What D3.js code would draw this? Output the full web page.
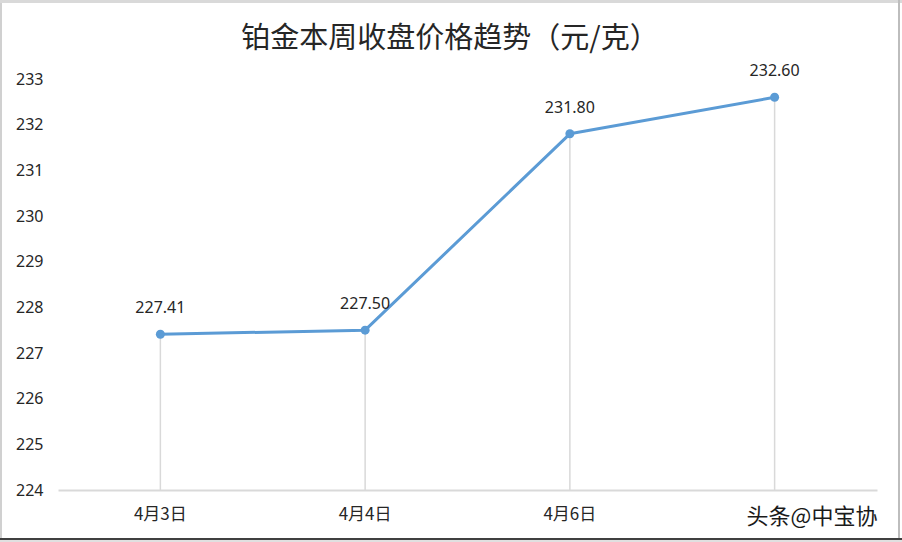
<!DOCTYPE html>
<html>
<head>
<meta charset="utf-8">
<script src="https://cdn.jsdelivr.net/npm/d3@7"></script>
<style>
  html, body { margin: 0; padding: 0; background: #ffffff; }
  svg { display: block; }
  text { font-family: "Noto Sans", "Noto Sans CJK SC", sans-serif; }
</style>
</head>
<body>
<div id="chart"></div>
<script>
const title = "铂金本周收盘价格趋势（元/克）";
const categories = ["4月3日", "4月4日", "4月6日", "4月7日"];
const values = [227.41, 227.50, 231.80, 232.60];
const yTicks = [224, 225, 226, 227, 228, 229, 230, 231, 232, 233];
const watermark = "头条@中宝协";

const W = 902, H = 542;
const svg = d3.select("#chart").append("svg").attr("width", W).attr("height", H);

// frame
svg.append("rect").attr("x", 0).attr("y", 0).attr("width", W).attr("height", H).attr("fill", "#ffffff");
svg.append("rect").attr("x", 0).attr("y", 0).attr("width", 2).attr("height", H).attr("fill", "#d0d0d0");
svg.append("rect").attr("x", 0).attr("y", 0).attr("width", W).attr("height", 3).attr("fill", "#d9d9d9");
svg.append("rect").attr("x", W - 4).attr("y", 0).attr("width", 2).attr("height", H).attr("fill", "#bdbdbd");
svg.append("rect").attr("x", 0).attr("y", H - 4).attr("width", W).attr("height", 2).attr("fill", "#404040");
svg.append("rect").attr("x", 0).attr("y", H - 2).attr("width", W).attr("height", 2).attr("fill", "#e0e0e0");

const x = d3.scaleBand().domain(categories).range([58, 877]);
const y = d3.scaleLinear().domain([224, 233]).range([490, 79]);
const cx = d => x(d) + x.bandwidth() / 2;

// title
svg.append("text")
  .attr("x", 450).attr("y", 48)
  .attr("text-anchor", "middle")
  .attr("font-size", 29)
  .attr("fill", "#262626")
  .style("font-family", "'Noto Sans CJK SC', sans-serif")
  .text(title);

// y tick labels
svg.append("g").selectAll("text").data(yTicks).enter().append("text")
  .attr("x", 16).attr("y", d => y(d))
  .attr("dy", "0.36em")
  .attr("font-size", 16)
  .attr("fill", "#262626")
  .text(d => d);

// drop lines
svg.append("g").selectAll("line").data(categories).enter().append("line")
  .attr("x1", d => cx(d)).attr("x2", d => cx(d))
  .attr("y1", (d, i) => y(values[i])).attr("y2", 490)
  .attr("stroke", "#d9d9d9").attr("stroke-width", 1.5);

// x axis (last label is hidden under the watermark in the reference)
const xAxis = d3.axisBottom(x).tickSize(0).tickPadding(18)
  .tickFormat((d, i) => i === categories.length - 1 ? "" : d);
const gx = svg.append("g").attr("transform", "translate(0,490)").call(xAxis);
gx.select(".domain").attr("stroke", "#d9d9d9").attr("stroke-width", 2);
gx.selectAll("text")
  .attr("font-size", 17)
  .attr("fill", "#262626")
  .style("font-family", "'Noto Sans CJK SC', sans-serif");

// line
const line = d3.line().x((d, i) => cx(categories[i])).y(d => y(d));
svg.append("path").datum(values)
  .attr("d", line)
  .attr("fill", "none")
  .attr("stroke", "#5b9bd5")
  .attr("stroke-width", 3)
  .attr("stroke-linejoin", "round");

svg.append("g").selectAll("circle").data(values).enter().append("circle")
  .attr("cx", (d, i) => cx(categories[i]))
  .attr("cy", d => y(d))
  .attr("r", 4.5)
  .attr("fill", "#5b9bd5");

// data labels
svg.append("g").selectAll("text").data(values).enter().append("text")
  .attr("x", (d, i) => cx(categories[i]))
  .attr("y", d => y(d) - 21)
  .attr("text-anchor", "middle")
  .attr("font-size", 16)
  .attr("fill", "#262626")
  .text(d => d.toFixed(2));

// watermark
svg.append("text")
  .attr("x", 812).attr("y", 524)
  .attr("text-anchor", "middle")
  .attr("font-size", 22)
  .attr("fill", "#1a1a1a")
  .style("font-family", "'Noto Sans CJK SC', sans-serif")
  .text(watermark);
</script>
</body>
</html>
